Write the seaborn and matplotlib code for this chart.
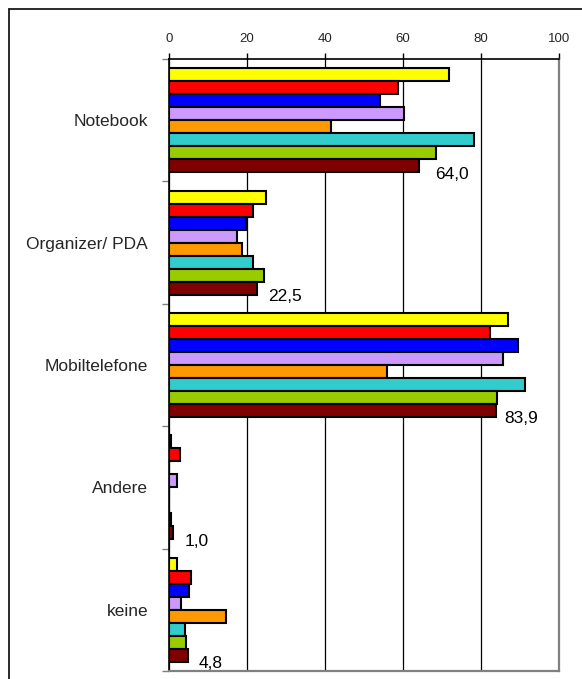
import matplotlib
matplotlib.use("Agg")
import matplotlib.pyplot as plt
from matplotlib.lines import Line2D
from matplotlib.ticker import FixedLocator
import seaborn as sns
import pandas as pd

# Device categories (top to bottom) and the eight survey series
categories = ["Notebook", "Organizer/ PDA", "Mobiltelefone", "Andere", "keine"]
series = ["Reihe 1", "Reihe 2", "Reihe 3", "Reihe 4",
          "Reihe 5", "Reihe 6", "Reihe 7", "Reihe 8"]

# Shares in percent, one list per series, ordered like `categories`
reihe_1 = [71.7, 24.9, 86.8, 0.4, 2.1]
reihe_2 = [58.8, 21.6, 82.3, 2.8, 5.6]
reihe_3 = [54.1, 19.7, 89.6, 0.0, 5.1]
reihe_4 = [60.3, 17.4, 85.7, 2.1, 3.0]
reihe_5 = [41.5, 18.6, 56.0, 0.0, 14.5]
reihe_6 = [78.2, 21.6, 91.3, 0.0, 4.1]
reihe_7 = [68.5, 24.3, 84.2, 0.4, 4.3]
reihe_8 = [64.0, 22.5, 83.9, 1.0, 4.8]
values = [reihe_1, reihe_2, reihe_3, reihe_4, reihe_5, reihe_6, reihe_7, reihe_8]

colors = ["#FFFF00", "#FF0000", "#0000FF", "#CC99FF",
          "#FF9900", "#33CCCC", "#99CC00", "#800000"]

x_ticks = [0, 20, 40, 60, 80, 100]

rows = []
for name, vals in zip(series, values):
    for cat, v in zip(categories, vals):
        rows.append({"Kategorie": cat, "Reihe": name, "Wert": v})
df = pd.DataFrame(rows)

sns.set_style("white")
plt.rcParams["font.family"] = ["Liberation Sans", "DejaVu Sans"]

W, H = 582, 679
fig = plt.figure(figsize=(W / 100, H / 100), dpi=100)
ax = fig.add_axes([169 / W, 1 - 671 / H, 390 / W, 612 / H])

sns.barplot(data=df, y="Kategorie", x="Wert", hue="Reihe",
            order=categories, hue_order=series, palette=colors,
            saturation=1, orient="h", width=0.85, edgecolor="black",
            linewidth=1.5, legend=False, ax=ax, errorbar=None, zorder=3)

ax.set_xlim(0, 100)
ax.set_ylim(len(categories) - 0.5, -0.5)
ax.set_xlabel("")
ax.set_ylabel("")

# value axis on top
ax.xaxis.tick_top()
ax.set_xticks(x_ticks)
ax.set_xticklabels([str(t) for t in x_ticks])
ax.tick_params(axis="x", top=True, bottom=False, length=4, width=1,
               color="black", labelsize=9.5, pad=6)

# category axis: labels at centers, small ticks between groups
ax.yaxis.set_minor_locator(FixedLocator([i - 0.5 for i in range(len(categories) + 1)]))
ax.tick_params(axis="y", which="major", left=True, length=0, labelsize=12.5, pad=15)
ax.tick_params(axis="y", which="minor", left=True, length=5, width=1, color="#808080")

ax.grid(axis="x", color="black", linewidth=0.9, zorder=0)
ax.grid(axis="y", visible=False)
ax.set_axisbelow(True)

for side in ("left", "top"):
    ax.spines[side].set_color("black")
    ax.spines[side].set_linewidth(1.2)
    ax.spines[side].set_visible(True)
for side in ("right", "bottom"):
    ax.spines[side].set_color("#808080")
    ax.spines[side].set_linewidth(1.6)
    ax.spines[side].set_visible(True)

# value labels for the last series
label_shift_px = [17, 11, 8, 12, 11]
n = len(series)
bar_h = 0.85 / n
last_offset = -0.85 / 2 + bar_h * (n - 0.5)
for i, v in enumerate(reihe_8):
    ax.annotate(f"{v:.1f}".replace(".", ","),
                xy=(v, i + last_offset), xycoords="data",
                xytext=(label_shift_px[i] * 0.72, -6), textcoords="offset points",
                ha="left", va="center", fontsize=12.5, color="black")

# outer chart frame (left and top edges)
fig.add_artist(Line2D([8.5 / W, 8.5 / W], [0, 1 - 8.5 / H],
                      transform=fig.transFigure, color="#1a1a1a", linewidth=1.3))
fig.add_artist(Line2D([8.5 / W, 1], [1 - 8.5 / H, 1 - 8.5 / H],
                      transform=fig.transFigure, color="#1a1a1a", linewidth=1.3))

fig.savefig("out.png", dpi=100)
